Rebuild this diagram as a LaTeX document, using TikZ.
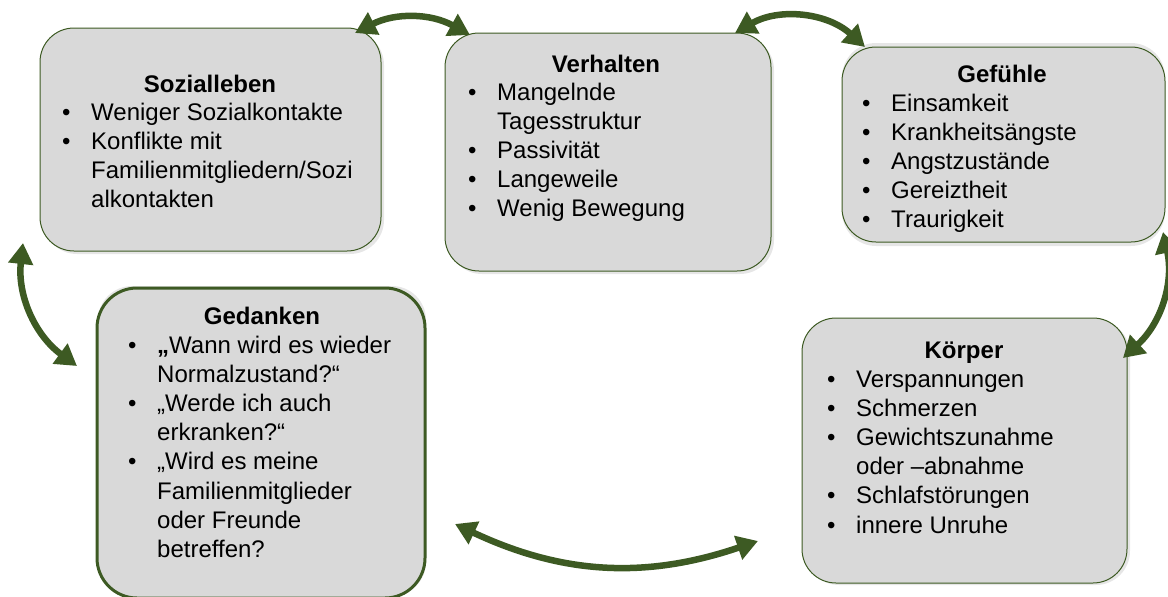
\documentclass[tikz,border=0pt]{standalone}
\usepackage{fontspec}
\setmainfont{Liberation Sans}
\usetikzlibrary{arrows.meta}
\definecolor{dg}{RGB}{61,90,35}
\definecolor{boxfill}{RGB}{217,217,217}
\definecolor{shadecol}{RGB}{230,230,230}
\newcommand{\bul}{\llap{\makebox[29pt][l]{•}}}
\begin{document}
\begin{tikzpicture}[x=1pt,y=-1pt,
  box/.style={draw=dg, line width=1pt, fill=boxfill, rounded corners=34pt, inner sep=0pt},
  shadowbox/.style={fill=shadecol, rounded corners=34pt, inner sep=0pt},
  title/.style={anchor=base, inner sep=0pt, font=\bfseries\fontsize{24}{29}\selectfont},
  list/.style={anchor=base west, align=left, inner sep=0pt, font=\fontsize{24}{29.2}\selectfont},
  arr/.style={draw=dg, line width=6.5pt, {Triangle[width=24pt,length=21pt]}-{Triangle[width=24pt,length=21pt]}}
]
\useasboundingbox (0,0) rectangle (1168,597);
% shadows
\node[shadowbox, minimum width=341pt, minimum height=223pt] (sozS) at (213.5,142.5) {};
\node[shadowbox, minimum width=326pt, minimum height=238pt] (verhS) at (611,155) {};
\node[shadowbox, minimum width=323pt, minimum height=203pt] (gefS) at (1003.5,144.5) {};
\node[shadowbox, minimum width=328pt, minimum height=310pt] (gedS) at (262,441) {};
\node[shadowbox, minimum width=325pt, minimum height=265pt] (koeS) at (967.5,452.5) {};
% boxes
\node[box, minimum width=341pt, minimum height=223pt] (soz) at (210.5,139.5) {};
\node[box, minimum width=326pt, minimum height=238pt] (verh) at (608,152) {};
\node[box, minimum width=323pt, minimum height=195pt] (gef) at (1003.5,144.5) {};
\node[box, line width=3pt, rounded corners=40pt, minimum width=328pt, minimum height=310pt] (ged) at (261,443) {};
\node[box, minimum width=325pt, minimum height=265pt] (koe) at (964.5,450.5) {};
% texts (list nodes are placed by the baseline of their last line)
\node[title] (sozT) at (210,92) {Sozialleben};
\node[list] (sozL) at (91,207.6) {\bul Weniger Sozialkontakte\\\bul Konflikte mit\\Familienmitgliedern/Sozi\\alkontakten};
\node[title] (verhT) at (606,72) {Verhalten};
\node[list] (verhL) at (497,216.8) {\bul Mangelnde\\Tagesstruktur\\\bul Passivität\\\bul Langeweile\\\bul Wenig Bewegung};
\node[title] (gefT) at (1002,82) {Gefühle};
\node[list] (gefL) at (891,227.8) {\bul Einsamkeit\\\bul Krankheitsängste\\\bul Angstzustände\\\bul Gereiztheit\\\bul Traurigkeit};
\node[title] (gedT) at (262,324) {Gedanken};
\node[list] (gedL) at (157,557.4) {\bul\textbf{„}Wann wird es wieder\\Normalzustand?“\\\bul „Werde ich auch\\erkranken?“\\\bul „Wird es meine\\Familienmitglieder\\oder Freunde\\betreffen?};
\node[title] (koeT) at (964,358) {Körper};
\node[list] (koeL) at (856,533) {\bul Verspannungen\\\bul Schmerzen\\\bul Gewichtszunahme\\oder –abnahme\\\bul Schlafstörungen\\\bul innere Unruhe};
% arrow end points on the boxes
\coordinate (soz-ne) at (355,33);
\coordinate (verh-nw) at (470,35);
\coordinate (verh-ne) at (735,33);
\coordinate (gef-nw) at (865,47);
\coordinate (gef-se) at (1163,232);
\coordinate (koe-ne) at (1123,358);
\coordinate (ged-se) at (455,524);
\coordinate (koe-w) at (758,541);
\coordinate (soz-sw) at (23,243);
\coordinate (ged-nw) at (77,366);
% arrows
\draw[arr] (soz-ne) to[bend left=28] (verh-nw);
\draw[arr] (verh-ne) to[bend left=36] (gef-nw);
\draw[arr] (gef-se) to[bend left=30] (koe-ne);
\draw[arr] (ged-se) to[bend right=22] (koe-w);
\draw[arr] (soz-sw) to[bend right=30] (ged-nw);
\end{tikzpicture}
\end{document}
